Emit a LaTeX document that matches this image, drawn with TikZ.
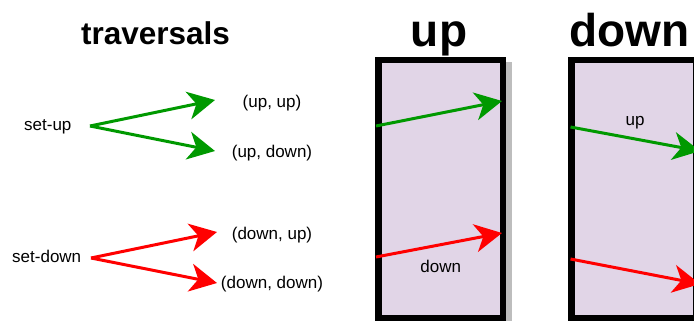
\documentclass[tikz,border=0pt]{standalone}
\usepackage{fontspec}
\setmainfont{Liberation Sans}
\usetikzlibrary{arrows.meta}
\definecolor{boxfill}{HTML}{E1D5E7}
\definecolor{grn}{HTML}{009900}
\definecolor{rd}{HTML}{FF0000}
\definecolor{shadowgray}{HTML}{BDBDBD}
\begin{document}
\begin{tikzpicture}[x=1pt,y=-1pt,
  lbl/.style={font=\fontsize{17}{20}\selectfont, inner sep=0pt, anchor=base},
  ttl/.style={font=\fontsize{46}{50}\selectfont\bfseries, inner sep=0pt, anchor=base},
  sttl/.style={font=\fontsize{31.5}{36}\selectfont\bfseries, inner sep=0pt, anchor=base},
  panel/.style={draw=black, line width=6.5pt, fill=boxfill, minimum width=124.5pt, minimum height=257.5pt, inner sep=0pt},
  arr/.style={line width=3pt, -{Stealth[length=27pt,width=28pt,inset=8pt]}},
]
\useasboundingbox (0,0) rectangle (694,321);

% titles
\node[sttl] (ttrav) at (155.5,45) {traversals};
\node[ttl] (tup) at (439,46.7) {up};
\node[ttl, anchor=base west] (tdown) at (569,46.7) {down};

% left labels
\node[lbl] (setup) at (47.8,131) {set-up};
\node[lbl] (setdown) at (46.7,262.7) {set-down};
\node[lbl] (uu) at (272,107) {(up, up)};
\node[lbl] (ud) at (272,157.5) {(up, down)};
\node[lbl] (du) at (272,239.3) {(down, up)};
\node[lbl] (dd) at (272,288.3) {(down, down)};

\coordinate (su) at (90,126);
\coordinate (sd) at (91,258);
\coordinate (uutip) at (215,100);
\coordinate (udtip) at (215,151);
\coordinate (dutip) at (217,232);
\coordinate (ddtip) at (217,283);
\draw[arr, grn] (su) -- (uutip);
\draw[arr, grn] (su) -- (udtip);
\draw[arr, rd] (sd) -- (dutip);
\draw[arr, rd] (sd) -- (ddtip);

% panels
\fill[shadowgray] (380,62) rectangle (511.5,330);
\node[panel] (upbox) at (440.5,189) {};
\node[panel] (downbox) at (633.8,189) {};

% arrows in up panel
\coordinate (ug1) at (376,126);
\coordinate (ug2) at (502,101);
\coordinate (ur1) at (376,257);
\coordinate (ur2) at (502,233);
\draw[arr, grn] (ug1) -- (ug2);
\draw[arr, rd] (ur1) -- (ur2);
\node[lbl] (lblfdown) at (440.8,272.7) {down};

% arrows in down panel
\coordinate (dg1) at (570.5,127);
\coordinate (dg2) at (700,151);
\coordinate (dr1) at (570.5,259);
\coordinate (dr2) at (700,284);
\draw[arr, grn] (dg1) -- (dg2);
\draw[arr, rd] (dr1) -- (dr2);
\node[lbl] (lblfup) at (635,125) {up};
\end{tikzpicture}
\end{document}
